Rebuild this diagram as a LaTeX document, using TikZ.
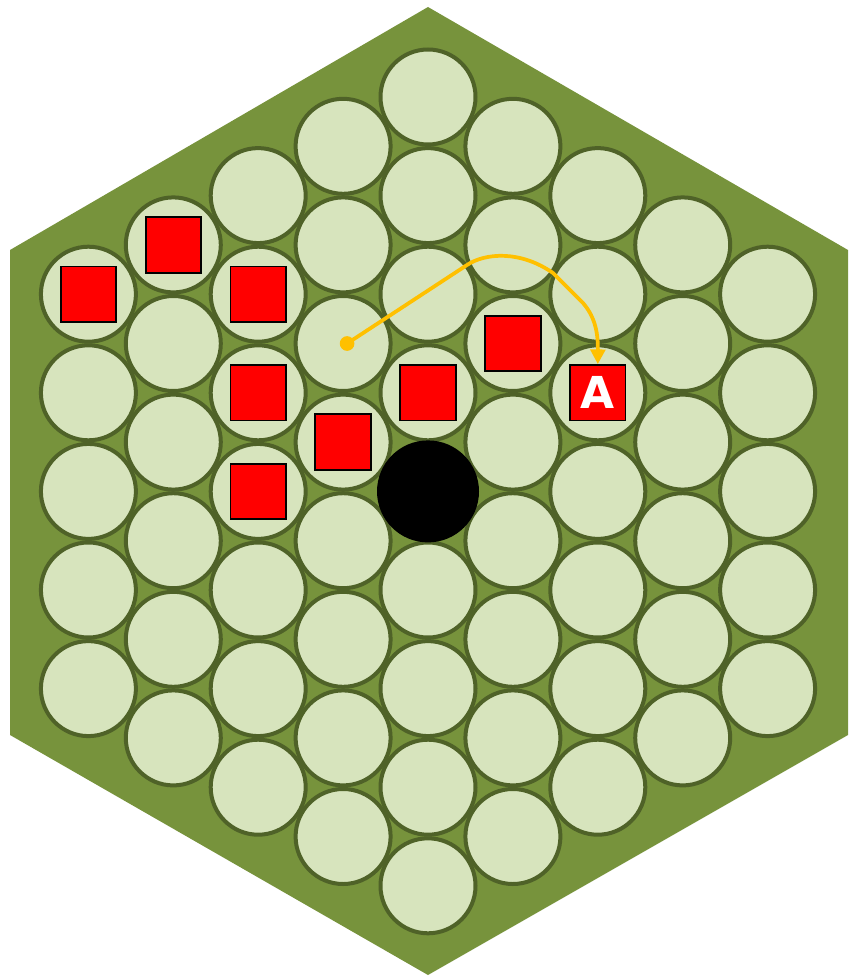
\documentclass[tikz,border=0pt]{standalone}
\usepackage{fontspec}
\newfontfamily\boardfont{DejaVu Sans}
\usetikzlibrary{arrows.meta}

\definecolor{boardgreen}{HTML}{77933C}
\definecolor{cellfill}{HTML}{D7E4BD}
\definecolor{cellline}{HTML}{4F6228}
\definecolor{piecered}{HTML}{FF0000}
\definecolor{movecolor}{HTML}{FFC000}

\tikzset{
  cell/.style={circle, draw=cellline, fill=cellfill, line width=3pt,
    minimum size=71.25pt, inner sep=0pt},
  piece/.style={draw=black, fill=piecered, line width=1.4pt,
    minimum size=41.6pt, inner sep=0pt},
  hole/.style={circle, fill=black, minimum size=76.5pt, inner sep=0pt},
  movedot/.style={circle, fill=movecolor, minimum size=11pt, inner sep=0pt},
  moveline/.style={draw=movecolor, line width=2.8pt,
    -{Triangle[length=11pt, width=11pt]}},
}

\begin{document}
\begin{tikzpicture}[x=0.75pt, y=-0.75pt]
    % Khung hình (pixel)
    \useasboundingbox (0,0) rectangle (851,977);

    % Bàn cờ lục giác
    \fill[boardgreen] (428,7) -- (848,250) -- (848,735) -- (428,975)
        -- (10,735) -- (10,250) -- cycle;

    % Các ô tròn: cột \i, hàng \j
    \foreach \i in {-4,...,4} {
        \pgfmathtruncatemacro\n{8-abs(\i)}
        \foreach \j in {0,...,\n}
            \node[cell] (c\i-\j) at ({428+84.9*\i}, {97+49.3*abs(\i)+98.6*\j}) {};
    }

    % Lỗ đen ở giữa
    \node[hole] (center) at (c0-4) {};

    % Các quân đỏ
    \node[piece] (p1) at (c-4-0) {};
    \node[piece] (p2) at (c-3-0) {};
    \node[piece] (p3) at (c-2-1) {};
    \node[piece] (p4) at (c-2-2) {};
    \node[piece] (p5) at (c-2-3) {};
    \node[piece] (p6) at (c-1-3) {};
    \node[piece] (p7) at (c0-3) {};
    \node[piece] (p8) at (c1-2) {};
    \node[piece, text=white, font=\boardfont\bfseries\fontsize{33}{33}\selectfont]
        (pA) at (c2-2) {A};

    % Nước đi
    \node[movedot] (start) at ([xshift=3pt]c-1-2) {};
    \draw[moveline] (start.center) -- (467,265)
        .. controls (485,253) and (520,250) .. (553,273) -- (583,303)
        .. controls (596,318) and (598,335) .. (pA.north);

\end{tikzpicture}
\end{document}
